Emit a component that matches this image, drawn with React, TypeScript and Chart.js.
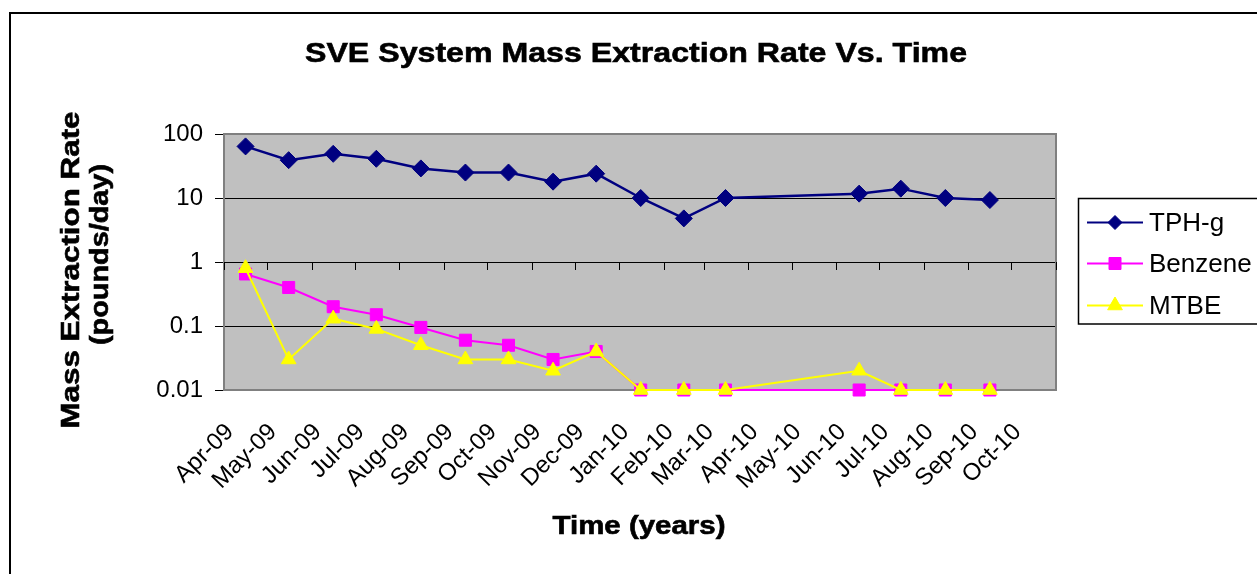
import React, { useEffect, useRef } from 'react';
import { Chart, registerables } from 'chart.js';

Chart.register(...registerables);

// ---------- data ----------
const sampleDates = [
  '2009-04-16', '2009-05-16', '2009-06-16', '2009-07-16', '2009-08-16', '2009-09-16',
  '2009-10-16', '2009-11-16', '2009-12-16', '2010-01-16', '2010-02-15', '2010-03-16',
  '2010-06-17', '2010-07-16', '2010-08-16', '2010-09-16',
];
const tphValues = [64, 39, 49, 41, 29, 25, 25, 18, 24, 10, 4.8, 10, 11.7, 14, 10, 9.3];
const benzeneValues = [0.65, 0.4, 0.2, 0.15, 0.095, 0.06, 0.05, 0.03, 0.04, 0.01, 0.01, 0.01, 0.01, 0.01, 0.01, 0.01];
const mtbeValues = [0.8, 0.03, 0.13, 0.09, 0.05, 0.03, 0.03, 0.02, 0.04, 0.01, 0.01, 0.01, 0.02, 0.01, 0.01, 0.01];

const seriesNames = ['TPH-g', 'Benzene', 'MTBE'];
const seriesColors = ['#000080', '#FF00FF', '#FFFF00'];

const axisStart = '2009-04-01';
const axisEnd = '2010-11-01';
const tickDates = [
  '2009-04-01', '2009-05-01', '2009-06-01', '2009-07-01', '2009-08-01', '2009-09-01', '2009-10-01',
  '2009-11-01', '2009-12-01', '2010-01-01', '2010-02-01', '2010-03-01', '2010-04-01', '2010-05-01',
  '2010-06-01', '2010-07-01', '2010-08-01', '2010-09-01', '2010-10-01',
];
const tickLabels = [
  'Apr-09', 'May-09', 'Jun-09', 'Jul-09', 'Aug-09', 'Sep-09', 'Oct-09', 'Nov-09', 'Dec-09',
  'Jan-10', 'Feb-10', 'Mar-10', 'Apr-10', 'May-10', 'Jun-10', 'Jul-10', 'Aug-10', 'Sep-10', 'Oct-10',
];
const yTickValues = [0.01, 0.1, 1, 10, 100];
const yTickLabels = ['0.01', '0.1', '1', '10', '100'];

const chartTitle = 'SVE System Mass Extraction Rate Vs. Time';
const yTitleLines = ['Mass Extraction Rate', '(pounds/day)'];
const xTitle = 'Time (years)';

// ---------- helpers ----------
const FONT = '"Liberation Sans", Arial, Helvetica, sans-serif';
const toDay = (s: string) => Date.parse(s) / 86400000;

function drawStretched(
  ctx: CanvasRenderingContext2D, text: string, x: number, y: number,
  size: number, targetW: number, rotate: boolean,
) {
  ctx.save();
  ctx.font = `bold ${size}px ${FONT}`;
  const w = ctx.measureText(text).width;
  ctx.translate(x, y);
  if (rotate) ctx.rotate(-Math.PI / 2);
  ctx.scale(targetW / w, 1);
  ctx.textAlign = 'center';
  ctx.textBaseline = 'alphabetic';
  ctx.fillStyle = '#000';
  ctx.fillText(text, 0, 0);
  ctx.lineWidth = 0.6;
  ctx.strokeStyle = '#000';
  ctx.strokeText(text, 0, 0);
  ctx.restore();
}

function drawMarker(ctx: CanvasRenderingContext2D, kind: number, x: number, y: number, color: string) {
  ctx.save();
  ctx.fillStyle = color;
  ctx.strokeStyle = color;
  ctx.lineWidth = 1;
  ctx.beginPath();
  if (kind === 0) {
    const r = 7;
    ctx.moveTo(x - r, y); ctx.lineTo(x, y - r); ctx.lineTo(x + r, y); ctx.lineTo(x, y + r);
  } else if (kind === 1) {
    const s = 6;
    ctx.rect(x - s, y - s, 2 * s, 2 * s);
  } else {
    const r = 8.5;
    for (let i = 0; i < 3; i++) {
      const a = (i * 2 * Math.PI) / 3;
      const px = x + Math.sin(a) * r;
      const py = y - Math.cos(a) * r;
      if (i === 0) ctx.moveTo(px, py); else ctx.lineTo(px, py);
    }
  }
  ctx.closePath();
  ctx.fill();
  ctx.stroke();
  ctx.restore();
}

const decorPlugin = {
  id: 'decor',
  beforeDraw(chart: any) {
    const { ctx, chartArea: a } = chart;
    ctx.save();
    ctx.fillStyle = '#FFFFFF';
    ctx.fillRect(0, 0, chart.width, chart.height);
    ctx.fillStyle = '#C0C0C0';
    ctx.fillRect(a.left, a.top, a.right - a.left, a.bottom - a.top);
    ctx.restore();
  },
  beforeDatasetsDraw(chart: any) {
    const { ctx, chartArea: a } = chart;
    const xs = chart.scales.x;
    const ys = chart.scales.y;
    ctx.save();
    // plot border
    ctx.strokeStyle = '#808080';
    ctx.lineWidth = 2;
    ctx.strokeRect(a.left, a.top, a.right - a.left, a.bottom - a.top);
    // x-axis tick marks where the axis crosses at 1
    const y1 = Math.round(ys.getPixelForValue(1));
    ctx.strokeStyle = '#000';
    ctx.lineWidth = 1;
    ctx.beginPath();
    [...tickDates, axisEnd].forEach((d) => {
      const px = Math.round(xs.getPixelForValue(toDay(d))) + 0.5;
      ctx.moveTo(px, y1);
      ctx.lineTo(px, y1 + 8);
    });
    ctx.stroke();
    ctx.restore();
  },
  afterDraw(chart: any) {
    const { ctx } = chart;
    ctx.save();
    // outer frame
    ctx.strokeStyle = '#000';
    ctx.lineWidth = 2;
    ctx.beginPath();
    ctx.moveTo(10, chart.height);
    ctx.lineTo(10, 13);
    ctx.lineTo(chart.width, 13);
    ctx.stroke();
    ctx.restore();

    // titles
    drawStretched(ctx, chartTitle, 636, 62, 28, 662, false);
    drawStretched(ctx, yTitleLines[0], 79, 270, 26, 317, true);
    drawStretched(ctx, yTitleLines[1], 108, 254.5, 26, 181, true);
    drawStretched(ctx, xTitle, 639, 534, 25, 173, false);

    // legend
    ctx.save();
    ctx.strokeStyle = '#000';
    ctx.lineWidth = 1.5;
    ctx.strokeRect(1078.5, 198.5, 300, 125.5);
    const rows = [222.5, 263.5, 305.5];
    seriesNames.forEach((name, i) => {
      const y = rows[i];
      ctx.strokeStyle = seriesColors[i];
      ctx.lineWidth = 2;
      ctx.beginPath();
      ctx.moveTo(1087, y);
      ctx.lineTo(1143, y);
      ctx.stroke();
      drawMarker(ctx, i, 1115, y, seriesColors[i]);
      ctx.fillStyle = '#000';
      ctx.font = `26px ${FONT}`;
      ctx.textAlign = 'left';
      ctx.textBaseline = 'middle';
      ctx.fillText(name, 1149, y + 1);
    });
    ctx.restore();
  },
};

export default function App() {
  const ref = useRef<HTMLCanvasElement | null>(null);

  useEffect(() => {
    if (!ref.current) return;
    const xs = sampleDates.map(toDay);
    const mk = (vals: number[]) => vals.map((v, i) => ({ x: xs[i], y: v }));
    const chart = new Chart(ref.current, {
      type: 'line',
      data: {
        datasets: [
          {
            label: seriesNames[0], data: mk(tphValues), borderColor: seriesColors[0], backgroundColor: seriesColors[0],
            borderWidth: 2.5, pointStyle: 'rectRot', pointRadius: 8.5, pointBorderWidth: 1, order: 2, clip: false, tension: 0,
          },
          {
            label: seriesNames[1], data: mk(benzeneValues), borderColor: seriesColors[1], backgroundColor: seriesColors[1],
            borderWidth: 2, pointStyle: 'rect', pointRadius: 8.5, pointBorderWidth: 1, order: 1, clip: false, tension: 0,
          },
          {
            label: seriesNames[2], data: mk(mtbeValues), borderColor: seriesColors[2], backgroundColor: seriesColors[2],
            borderWidth: 2, pointStyle: 'triangle', pointRadius: 8.5, pointBorderWidth: 1, order: 0, clip: false, tension: 0,
          },
        ],
      },
      options: {
        responsive: false,
        animation: false,
        devicePixelRatio: 1,
        layout: { padding: { left: 0, right: 201, top: 134, bottom: 0 } },
        plugins: {
          legend: { display: false },
          title: { display: false },
          tooltip: { enabled: false },
        },
        scales: {
          x: {
            type: 'linear',
            min: toDay(axisStart),
            max: toDay(axisEnd),
            afterBuildTicks: (s: any) => { s.ticks = tickDates.map((d) => ({ value: toDay(d) })); },
            afterFit: (s: any) => { s.height = 184; },
            grid: { display: false, drawTicks: false },
            border: { display: false },
            ticks: {
              autoSkip: false, maxRotation: 45, minRotation: 45, padding: 28, labelOffset: 6,
              color: '#000', font: { family: FONT, size: 24 },
              callback: (_v: any, i: number) => tickLabels[i],
            },
          },
          y: {
            type: 'logarithmic',
            min: 0.01,
            max: 100,
            afterBuildTicks: (s: any) => { s.ticks = yTickValues.map((v) => ({ value: v })); },
            afterFit: (s: any) => { s.width = 224; },
            grid: {
              color: (c: any) => (c.tick && (c.tick.value === 0.01 || c.tick.value === 100)) ? 'rgba(0,0,0,0)' : '#000',
              tickColor: '#000', tickLength: 9, lineWidth: 1,
            },
            border: { display: false },
            ticks: {
              padding: 12, color: '#000', font: { family: FONT, size: 24 },
              callback: (v: any) => {
                const i = yTickValues.indexOf(Number(v));
                return i >= 0 ? yTickLabels[i] : '';
              },
            },
          },
        },
      },
      plugins: [decorPlugin],
    });
    return () => chart.destroy();
  }, []);

  return (
    <div style={{ position: 'fixed', left: 0, top: 0, width: 1257, height: 574, background: '#fff' }}>
      <canvas ref={ref} width={1257} height={574} style={{ display: 'block', width: 1257, height: 574 }} />
    </div>
  );
}
